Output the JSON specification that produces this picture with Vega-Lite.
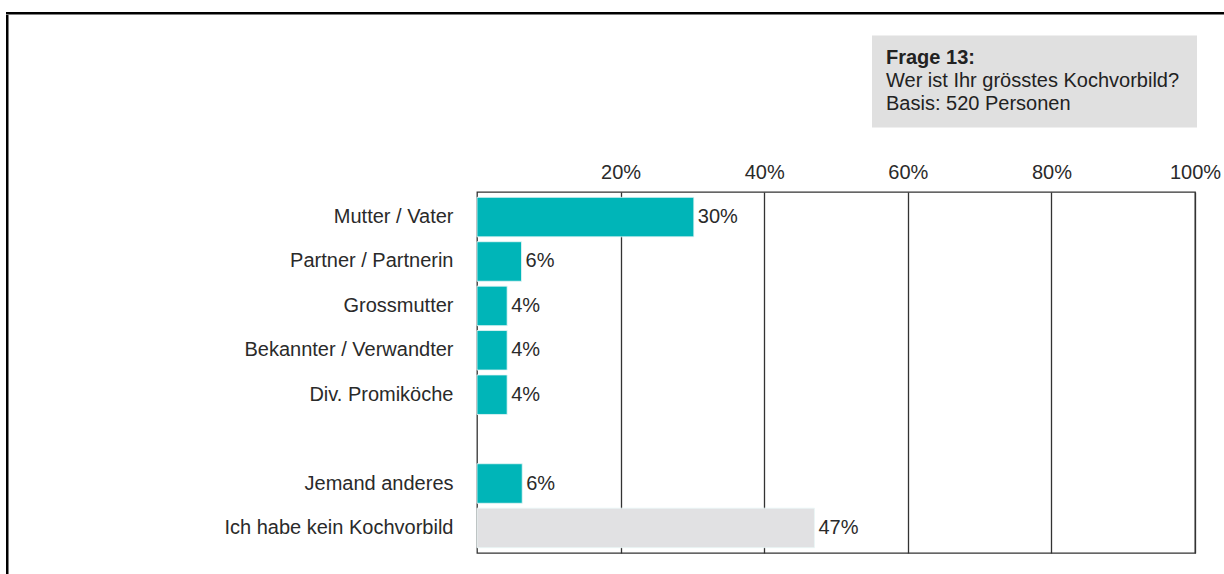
{
  "$schema": "https://vega.github.io/schema/vega-lite/v6.json",
  "background": "white",
  "padding": {"left": 6, "top": 12, "right": 0, "bottom": 0},
  "spacing": 0,
  "config": {
    "view": {"stroke": null},
    "font": "Liberation Sans",
    "concat": {"spacing": 0}
  },
  "vconcat": [
    {
      "width": 1218,
      "height": 2.5,
      "view": {"fill": "black", "stroke": null},
      "data": {"values": []},
      "mark": {"type": "text"},
      "encoding": {"text": {"field": "t"}}
    },
    {
      "spacing": 214,
      "hconcat": [
        {
          "width": 2.5,
          "height": 560,
          "view": {"fill": "black", "stroke": null},
          "data": {"values": []},
          "mark": {"type": "text"},
          "encoding": {"text": {"field": "t"}}
        },
        {
          "spacing": 13,
          "vconcat": [
            {
              "spacing": 0,
              "center": true,
              "hconcat": [
                {
                  "width": 395,
                  "height": 133,
                  "data": {"values": []},
                  "mark": {"type": "text"},
                  "encoding": {"text": {"field": "t"}}
                },
                {
                  "width": 325,
                  "height": 92,
                  "view": {"fill": "#e0e0e0", "stroke": null},
                  "data": {
                    "values": [
                      {"line": 1, "col": 0, "text": "Frage 13:"},
                      {"line": 2, "col": 0, "text": "Wer ist Ihr grösstes Kochvorbild?"},
                      {"line": 3, "col": 0, "text": "Basis: 520 Personen"}
                    ]
                  },
                  "encoding": {
                    "x": {"field": "col", "type": "quantitative", "scale": {"domain": [0, 1]}, "axis": null},
                    "y": {"field": "line", "type": "ordinal", "scale": {"type": "point", "padding": 1}, "axis": null},
                    "text": {"field": "text"}
                  },
                  "layer": [
                    {
                      "transform": [{"filter": "datum.line == 1"}],
                      "mark": {"type": "text", "align": "left", "baseline": "middle", "dx": 14, "dy": -1, "fontSize": 20, "fontWeight": "bold", "color": "#222"}
                    },
                    {
                      "transform": [{"filter": "datum.line != 1"}],
                      "mark": {"type": "text", "align": "left", "baseline": "middle", "dx": 14, "dy": -1, "fontSize": 20, "color": "#222"}
                    }
                  ]
                }
              ]
            },
            {
              "width": 718,
              "height": 361,
              "view": {"stroke": "#333", "strokeWidth": 1.3},
              "data": {
                "values": [
                  {"cat": "Mutter / Vater", "value": 30.2, "label": "30%", "kind": "a"},
                  {"cat": "Partner / Partnerin", "value": 6.2, "label": "6%", "kind": "a"},
                  {"cat": "Grossmutter", "value": 4.2, "label": "4%", "kind": "a"},
                  {"cat": "Bekannter / Verwandter", "value": 4.2, "label": "4%", "kind": "a"},
                  {"cat": "Div. Promiköche", "value": 4.2, "label": "4%", "kind": "a"},
                  {"cat": "Jemand anderes", "value": 6.3, "label": "6%", "kind": "a"},
                  {"cat": "Ich habe kein Kochvorbild", "value": 47.0, "label": "47%", "kind": "b"}
                ]
              },
              "encoding": {
                "y": {
                  "field": "cat",
                  "type": "nominal",
                  "sort": null,
                  "scale": {
                    "domain": ["Mutter / Vater", "Partner / Partnerin", "Grossmutter", "Bekannter / Verwandter", "Div. Promiköche", " ", "Jemand anderes", "Ich habe kein Kochvorbild"],
                    "paddingInner": 0.11,
                    "paddingOuter": 0.12
                  },
                  "axis": {
                    "title": null,
                    "ticks": false,
                    "domain": false,
                    "grid": false,
                    "labelFontSize": 20,
                    "labelColor": "#2a2a2a",
                    "labelPadding": 24,
                    "labelLimit": 400
                  }
                },
                "x": {
                  "field": "value",
                  "type": "quantitative",
                  "scale": {"domain": [0, 100], "nice": false},
                  "axis": {
                    "orient": "top",
                    "title": null,
                    "values": [20, 40, 60, 80, 100],
                    "labelExpr": "datum.value + '%'",
                    "grid": true,
                    "gridColor": "#333",
                    "gridWidth": 1.3,
                    "gridOpacity": 1,
                    "domain": false,
                    "ticks": false,
                    "labelFontSize": 20,
                    "labelPadding": 10,
                    "labelColor": "#2a2a2a",
                    "labelFlush": false
                  }
                }
              },
              "layer": [
                {
                  "mark": {"type": "bar", "stroke": "#e8f6f6", "strokeWidth": 0.8},
                  "encoding": {
                    "color": {
                      "field": "kind",
                      "type": "nominal",
                      "scale": {"domain": ["a", "b"], "range": ["#00b5b8", "#e1e1e3"]},
                      "legend": null
                    }
                  }
                },
                {
                  "mark": {"type": "text", "align": "left", "baseline": "middle", "dx": 4, "fontSize": 20, "color": "#2a2a2a"},
                  "encoding": {"text": {"field": "label"}}
                }
              ]
            }
          ]
        }
      ]
    }
  ]
}
